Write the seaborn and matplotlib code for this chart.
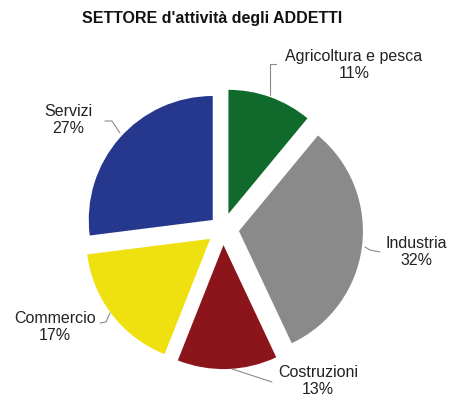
import matplotlib
matplotlib.use("Agg")
import matplotlib.pyplot as plt
import seaborn as sns

# Data
sectors = ["Agricoltura e pesca", "Industria", "Costruzioni", "Commercio", "Servizi"]
shares = [11, 32, 13, 17, 27]
sector_colors = ["#0f6a2b", "#8a8a8a", "#8c151b", "#efe00f", "#26388e"]

sns.set_theme(style="white")
plt.rcParams["font.family"] = ["Liberation Sans", "DejaVu Sans"]

fig = plt.figure(figsize=(4.51, 3.96), dpi=100)
ax = fig.add_axes([0, 0, 1, 1])

palette = sns.color_palette(sector_colors)
wedges, _ = ax.pie(
    shares,
    colors=palette,
    startangle=90,
    counterclock=False,
    explode=[0.13, 0.13, 0.13, 0.13, 0.11],
    radius=1.0,
    wedgeprops=dict(edgecolor="none", linewidth=0),
)
ax.set_xlim(-1.798, 1.839)
ax.set_ylim(-1.347, 1.847)
ax.set_aspect("equal")
ax.axis("off")

# Label blocks (name + percentage) and their leader lines
label_pos = [(1.056, 1.323), (1.56, -0.185), (0.766, -1.226), (-1.355, -0.79), (-1.25, 0.879)]
leaders = [
    [(0.379, 1.081), (0.379, 1.331), (0.425, 1.331)],
    [(1.145, -0.145), (1.185, -0.169), (1.266, -0.185)],
    [(0.073, -1.129), (0.395, -1.234)],
    [(-0.992, -0.758), (-0.943, -0.75), (-0.911, -0.677)],
    [(-0.952, 0.871), (-0.895, 0.871), (-0.831, 0.774)],
]
for name, val, (lx, ly), path in zip(sectors, shares, label_pos, leaders):
    ax.text(lx, ly, f"{name}\n{val}%", ha="center", va="center",
            fontsize=11.5, color="#222222", linespacing=1.2)
    xs, ys = zip(*path)
    ax.plot(xs, ys, color="#8a8a8a", lw=0.8, solid_capstyle="round")

fig.text(212 / 451, 1 - 18 / 396, "SETTORE d'attività degli ADDETTI",
         ha="center", va="center", fontsize=11.5, fontweight="bold", color="#111111")

fig.savefig("out.png", dpi=100, facecolor="white")
